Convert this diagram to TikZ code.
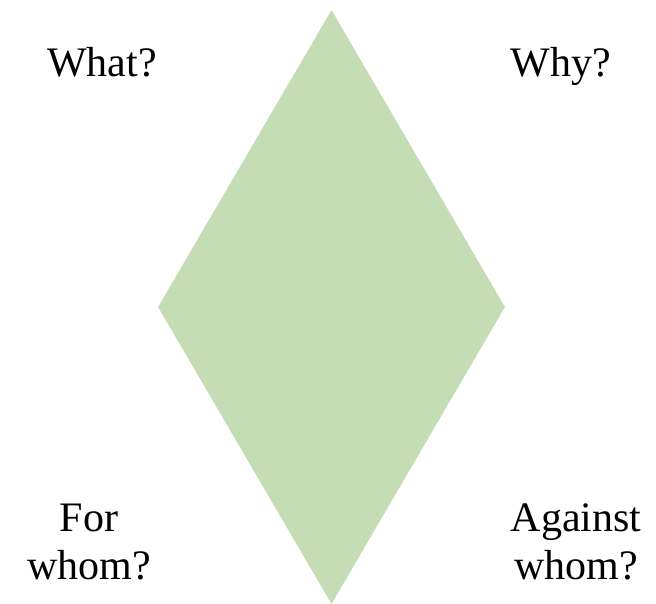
\documentclass[tikz,border=0pt]{standalone}
\usepackage{fontspec}
\setmainfont{Liberation Serif}
\usetikzlibrary{shapes.geometric}
\definecolor{gemgreen}{HTML}{C5DDB5}

\begin{document}
\begin{tikzpicture}[x=1pt, y=-1pt,
  gem/.style={diamond, fill=gemgreen, draw=none, inner sep=0pt, minimum width=347pt, minimum height=594pt},
  ask/.style={font=\fontsize{42}{48}\selectfont, align=center, inner sep=0pt}]
  \useasboundingbox (0,0) rectangle (656,604);
  % ---------- centre ----------
  \node[gem] (core) at (331.5, 307) {};
  % ---------- questions ----------
  \node[ask, anchor=base] (what) at (102, 77) {What?};
  \node[ask, anchor=base] (why) at (561, 77) {Why?};
  \node[ask] (forwhom) at (89, 542) {For\\whom?};
  \node[ask] (against) at (576, 542) {Against\\whom?};
\end{tikzpicture}
\end{document}
